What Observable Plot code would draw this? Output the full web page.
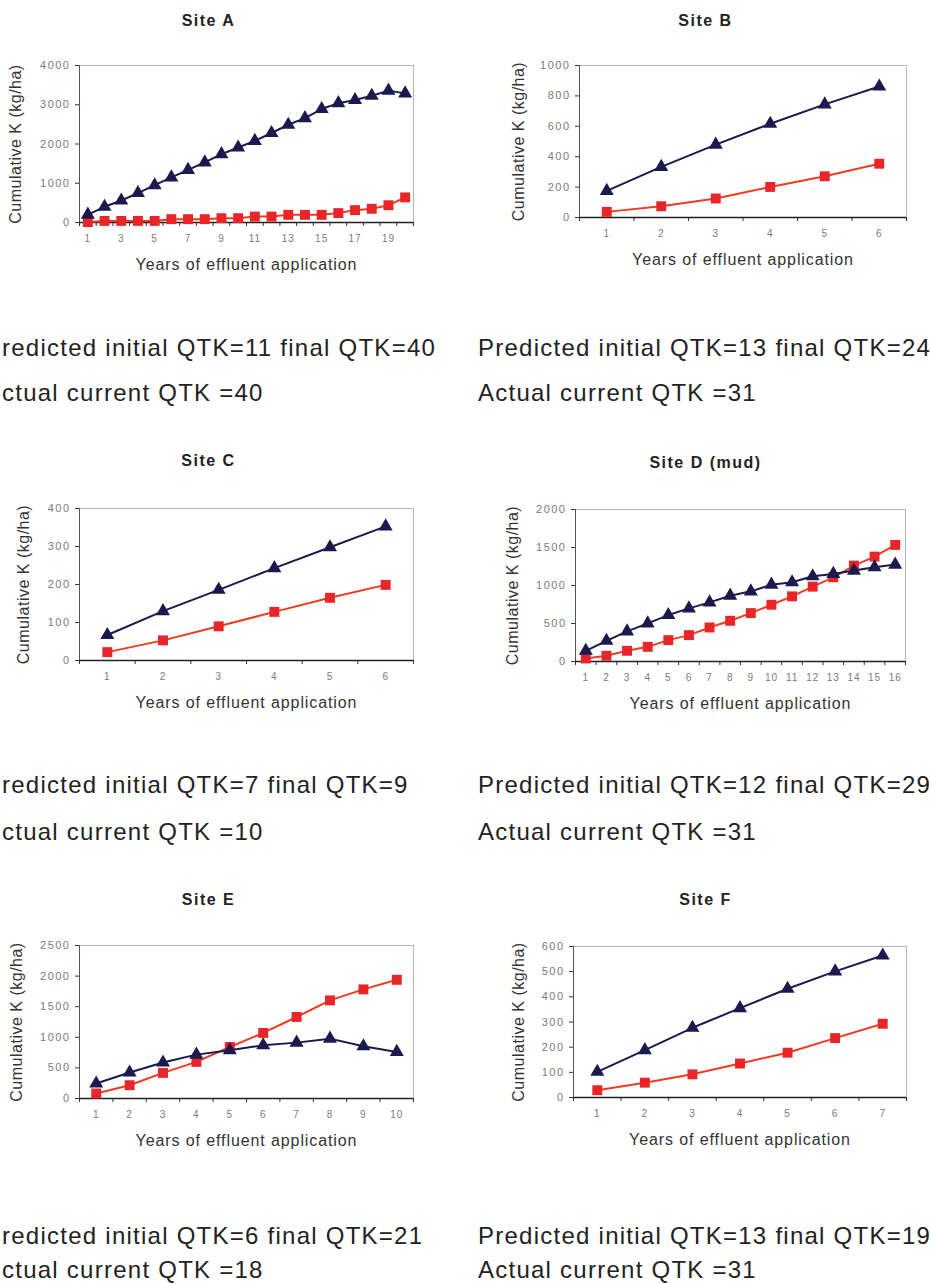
<!DOCTYPE html>
<html>
<head>
<meta charset="utf-8">
<script src="https://cdn.jsdelivr.net/npm/d3@7"></script>
<script src="https://cdn.jsdelivr.net/npm/@observablehq/plot@0.6"></script>
<style>
  html, body { margin: 0; padding: 0; background: #fff; }
  #page { position: relative; width: 931px; height: 1284px; overflow: hidden; background: #fff; font-family: "Liberation Sans", Arial, sans-serif; }
  .panel { position: absolute; }
  .note { position: absolute; font-family: "Liberation Sans", Arial, sans-serif; font-size: 24px; line-height: 24px; color: #222; white-space: nowrap; letter-spacing: 1.25px; }
  g[aria-label="y-axis tick label"] text { letter-spacing: 1.5px; }
  g[aria-label="x-axis tick label"] text { letter-spacing: 1px; }
</style>
</head>
<body>
<div id="page"></div>
<script>
// ---------- DATA ----------
const yearsA = [1,2,3,4,5,6,7,8,9,10,11,12,13,14,15,16,17,18,19,20];
const triA = [200,400,560,750,950,1150,1340,1530,1740,1910,2080,2280,2490,2660,2890,3040,3120,3230,3360,3290];
const sqA  = [10,40,40,40,40,85,85,85,110,110,150,150,195,195,195,240,315,350,440,640];
const xLabelsA = [1,3,5,7,9,11,13,15,17,19];
const yTicksA = [0,1000,2000,3000,4000];

const yearsB = [1,2,3,4,5,6];
const triB = [175,333,479,617,744,862];
const sqB  = [37,74,125,201,271,354];
const xLabelsB = [1,2,3,4,5,6];
const yTicksB = [0,200,400,600,800,1000];

const yearsC = [1,2,3,4,5,6];
const triC = [67,130,186,243,298,353];
const sqC  = [22,53,90,128,165,199];
const xLabelsC = [1,2,3,4,5,6];
const yTicksC = [0,100,200,300,400];

const yearsD = [1,2,3,4,5,6,7,8,9,10,11,12,13,14,15,16];
const triD = [141,272,396,501,611,699,778,866,923,1011,1042,1121,1152,1196,1240,1275];
const sqD  = [40,75,141,193,281,347,448,536,637,747,857,985,1108,1262,1380,1534];
const xLabelsD = [1,2,3,4,5,6,7,8,9,10,11,12,13,14,15,16];
const yTicksD = [0,500,1000,1500,2000];

const yearsE = [1,2,3,4,5,6,7,8,9,10];
const triE = [245,424,587,717,788,870,913,978,853,761];
const sqE  = [82,217,418,598,842,1071,1332,1603,1783,1940];
const xLabelsE = [1,2,3,4,5,6,7,8,9,10];
const yTicksE = [0,500,1000,1500,2000,2500];

const yearsF = [1,2,3,4,5,6,7];
const triF = [102,188,277,355,432,501,564];
const sqF  = [29,59,92,135,178,236,293];
const xLabelsF = [1,2,3,4,5,6,7];
const yTicksF = [0,100,200,300,400,500,600];

const titles = ["Site A","Site B","Site C","Site D (mud)","Site E","Site F"];
const yLabel = "Cumulative K (kg/ha)";
const xLabel = "Years of effluent application";

const notes = [
  ["redicted initial QTK=11 final QTK=40", "ctual current QTK =40"],
  ["Predicted initial QTK=13 final QTK=24", "Actual current QTK =31"],
  ["redicted initial QTK=7 final QTK=9", "ctual current QTK =10"],
  ["Predicted initial QTK=12 final QTK=29", "Actual current QTK =31"],
  ["redicted initial QTK=6 final QTK=21", "ctual current QTK =18"],
  ["Predicted initial QTK=13 final QTK=19", "Actual current QTK =31"]
];

// ---------- LAYOUT ----------
const NAVY = "#1a1a4e";
const RED = "#e8262a";
const REDLINE = "#f23a22";
const FONT = "Liberation Sans, Arial, sans-serif";

const panels = [
  {years: yearsA, tri: triA, sq: sqA, xl: xLabelsA, yt: yTicksA, left: 0,   top: 0,   w: 465, h: 290, fl: 79,  fr: 413, ft: 65, fb: 222, yLabX: 15, tX: 208, tY: 14},
  {years: yearsB, tri: triB, sq: sqB, xl: xLabelsB, yt: yTicksB, left: 465, top: 0,   w: 466, h: 290, fl: 114, fr: 441, ft: 65, fb: 217, yLabX: 53, tX: 240, tY: 14},
  {years: yearsC, tri: triC, sq: sqC, xl: xLabelsC, yt: yTicksC, left: 0,   top: 420, w: 465, h: 300, fl: 79,  fr: 413, ft: 88, fb: 240, yLabX: 23, tX: 208, tY: 34},
  {years: yearsD, tri: triD, sq: sqD, xl: xLabelsD, yt: yTicksD, left: 465, top: 420, w: 466, h: 300, fl: 110, fr: 440, ft: 89, fb: 241, yLabX: 47, tX: 240, tY: 36},
  {years: yearsE, tri: triE, sq: sqE, xl: xLabelsE, yt: yTicksE, left: 0,   top: 870, w: 465, h: 300, fl: 79,  fr: 413, ft: 75, fb: 228, yLabX: 16, tX: 208, tY: 23},
  {years: yearsF, tri: triF, sq: sqF, xl: xLabelsF, yt: yTicksF, left: 465, top: 870, w: 466, h: 300, fl: 108, fr: 441, ft: 76, fb: 227, yLabX: 53, tX: 240, tY: 23}
];

const noteRows = [
  {y1: 356, y2: 401},
  {y1: 793, y2: 840},
  {y1: 1244, y2: 1278}
];

const page = document.getElementById("page");

panels.forEach((p, i) => {
  const data = p.years.map((yr, k) => ({yr, tri: p.tri[k], sq: p.sq[k]}));
  const n = p.years.length;
  const bounds = d3.range(n + 1).map(k => k + 0.5);
  const frameCX = (p.fl + p.fr) / 2;
  const chart = Plot.plot({
    width: p.w,
    height: p.h,
    marginLeft: p.fl,
    marginRight: p.w - p.fr,
    marginTop: p.ft,
    marginBottom: p.h - p.fb,
    style: {fontFamily: FONT, background: "transparent", overflow: "visible"},
    x: {domain: [0.5, n + 0.5]},
    y: {domain: [0, p.yt[p.yt.length - 1]]},
    marks: [
      Plot.frame({stroke: "#b5b5b5", strokeWidth: 1}),
      Plot.axisY({ticks: p.yt, tickSize: 4, tickPadding: 5, fontSize: 11, stroke: "#333", fill: "#7a7a7a", label: null, tickFormat: d => String(d)}),
      Plot.axisX({ticks: bounds, tickSize: 4, tickFormat: () => "", stroke: "#333", label: null}),
      Plot.axisX({ticks: p.xl, tickSize: 0, tickPadding: 12, fontSize: 10, fill: "#7a7a7a", label: null, tickFormat: d => String(d)}),
      Plot.ruleY([0], {stroke: "#222", strokeWidth: 1.3}),
      Plot.ruleX([0.5], {stroke: "#555", strokeWidth: 1}),
      Plot.line(data, {x: "yr", y: "sq", stroke: REDLINE, strokeWidth: 2}),
      Plot.dot(data, {x: "yr", y: "sq", symbol: "square", r: 5.6, fill: RED, stroke: "none"}),
      Plot.line(data, {x: "yr", y: "tri", stroke: NAVY, strokeWidth: 2}),
      Plot.dot(data, {x: "yr", y: "tri", symbol: "triangle", r: 5.2, fill: NAVY, stroke: "none"}),
      Plot.text([titles[i]], {frameAnchor: "top", textAnchor: "middle", dx: p.tX - frameCX, dy: p.tY - p.ft, fontWeight: "bold", fontSize: 16, fill: "#222"}),
      Plot.text([xLabel], {frameAnchor: "bottom", textAnchor: "middle", dy: 47, fontSize: 16, fill: "#333"}),
      Plot.text([yLabel], {frameAnchor: "left", textAnchor: "middle", rotate: -90, dx: p.yLabX - p.fl, fontSize: 16, fill: "#333"})
    ]
  });
  // letter spacing to mimic the wide spacing of the original chart text
  const spacing = new Map([[titles[i], "1.5px"], [xLabel, "0.9px"], [yLabel, "0.5px"]]);
  d3.select(chart).selectAll("text").each(function () {
    const s = spacing.get(this.textContent);
    if (s) this.style.letterSpacing = s;
  });

  const holder = document.createElement("div");
  holder.className = "panel";
  holder.style.left = p.left + "px";
  holder.style.top = p.top + "px";
  holder.appendChild(chart);
  page.appendChild(holder);

  const row = noteRows[Math.floor(i / 2)];
  const x = (i % 2 === 0) ? 2 : 478;
  [[notes[i][0], row.y1], [notes[i][1], row.y2]].forEach(([txt, base]) => {
    const d = document.createElement("div");
    d.className = "note";
    d.textContent = txt;
    d.style.left = x + "px";
    d.style.top = (base - 20) + "px";
    page.appendChild(d);
  });
});
</script>
</body>
</html>
